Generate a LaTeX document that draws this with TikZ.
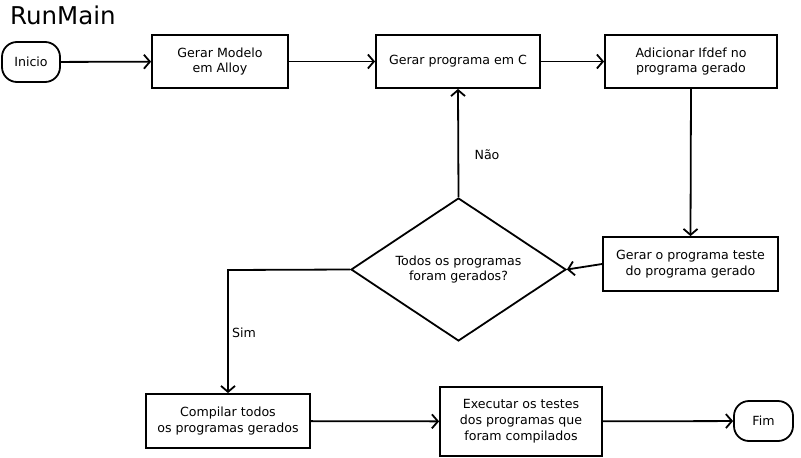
\documentclass[tikz,border=0pt]{standalone}
\usepackage{fontspec}
\setmainfont{DejaVu Sans}
\usetikzlibrary{shapes.geometric,arrows.meta}
\begin{document}
\begin{tikzpicture}[x=1pt,y=-1pt,
  every node/.style={font=\fontsize{12.6}{15.8}\selectfont},
  box/.style={draw,line width=1.8pt,align=center,inner sep=0pt},
  term/.style={draw,line width=1.8pt,rounded corners=15pt,inner sep=0pt,align=center},
  dec/.style={draw,line width=1.8pt,diamond,aspect=1.5,align=center,inner sep=0pt,minimum width=215pt,minimum height=143pt},
  conn/.style={line width=1.8pt,-{Straight Barb[length=6pt,width=14pt,line width=1.8pt]}},
  lbl/.style={inner sep=0pt}]
\useasboundingbox (0,0) rectangle (801,458);
\node[anchor=base west,inner sep=0pt,font=\fontsize{24.5}{28}\selectfont] (title) at (10,24) {RunMain};
\node[term,minimum width=58pt,minimum height=40pt] (ini) at (31,62) {Inicio};
\node[box,minimum width=136pt,minimum height=53pt] (mod) at (220,61.5) {Gerar Modelo\\em Alloy};
\node[box,minimum width=164pt,minimum height=53pt] (prog) at (458,61.5) {Gerar programa em C};
\node[box,minimum width=172pt,minimum height=53pt] (ifd) at (691,61.5) {Adicionar Ifdef no\\programa gerado};
\node[box,minimum width=175pt,minimum height=54pt] (teste) at (690.5,264) {Gerar o programa teste\\do programa gerado};
\node[dec] (q) at (458.5,269.5) {Todos os programas\\foram gerados?};
\node[box,minimum width=164pt,minimum height=54pt] (comp) at (228,421) {Compilar todos\\os programas gerados};
\node[box,minimum width=162pt,minimum height=69pt] (exe) at (521,421.5) {Executar os testes\\dos programas que\\foram compilados};
\node[term,minimum width=59pt,minimum height=40pt] (fim) at (763.5,421) {Fim};
\coordinate (corner) at (228,270);
\draw[conn] (ini) -- (mod);
\draw[conn] (mod) -- (prog);
\draw[conn] (prog) -- (ifd);
\draw[conn] (ifd.south) -- (teste.north);
\draw[conn] (teste.west) -- (q.east);
\draw[conn] (q.north) -- (prog.south);
\draw[conn] (q.west) -- (corner) -- (comp.north);
\node[lbl] (nao) at (487,155) {Não};
\node[lbl] (sim) at (244,333) {Sim};
\draw[conn] (comp) -- (exe);
\draw[conn] (exe) -- (fim);
\end{tikzpicture}
\end{document}
